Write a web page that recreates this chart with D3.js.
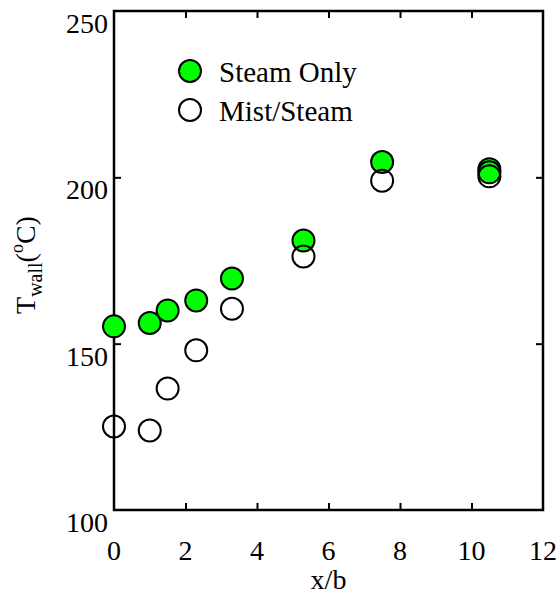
<!DOCTYPE html>
<html>
<head>
<meta charset="utf-8">
<script src="https://cdn.jsdelivr.net/npm/d3@7"></script>
<style>
  body { margin: 0; background: #fff; }
  text { font-family: "Liberation Serif", "Times New Roman", serif; fill: #000; }
</style>
</head>
<body>
<div id="chart"></div>
<script>
// data
const steamX = [0, 1, 1.5, 2.3, 3.3, 5.3, 7.5, 10.5, 10.5];
const steamY = [155.2, 156.2, 160.0, 163.0, 169.6, 181.0, 204.6, 202.4, 201.5];
const mistX = [0, 1, 1.5, 2.3, 3.3, 5.3, 7.5, 10.5];
const mistY = [125.1, 123.9, 136.5, 148.0, 160.5, 176.2, 199.0, 200.3];
const xTicks = [0, 2, 4, 6, 8, 10, 12];
const yTicks = [100, 150, 200, 250];
const seriesNames = ["Steam Only", "Mist/Steam"];

const width = 560, height = 598;
const margin = {top: 11, right: 17, bottom: 88, left: 114};

const svg = d3.select("#chart")
    .append("svg")
    .attr("width", width)
    .attr("height", height);

const x = d3.scaleLinear().domain([0, 12]).range([margin.left, width - margin.right]);
const y = d3.scaleLinear().domain([100, 250]).range([height - margin.bottom, margin.top]);

const fs = 28;

// inner ticks on all four sides
const tickLen = 7;
const inner = xTicks.slice(1, -1);
const innerY = yTicks.slice(1, -1);

svg.append("g")
    .attr("transform", `translate(0,${y(100)})`)
    .call(d3.axisTop(x).tickValues(inner).tickSize(tickLen).tickFormat(""))
    .call(g => g.select(".domain").remove());
svg.append("g")
    .attr("transform", `translate(0,${y(250)})`)
    .call(d3.axisBottom(x).tickValues(inner).tickSize(tickLen).tickFormat(""))
    .call(g => g.select(".domain").remove());
svg.append("g")
    .attr("transform", `translate(${x(0)},0)`)
    .call(d3.axisRight(y).tickValues(innerY).tickSize(tickLen).tickFormat(""))
    .call(g => g.select(".domain").remove());
svg.append("g")
    .attr("transform", `translate(${x(12)},0)`)
    .call(d3.axisLeft(y).tickValues(innerY).tickSize(tickLen).tickFormat(""))
    .call(g => g.select(".domain").remove());
svg.selectAll(".tick line").attr("stroke", "#000").attr("stroke-width", 2);

// frame
svg.append("rect")
    .attr("x", x(0)).attr("y", y(250))
    .attr("width", x(12) - x(0)).attr("height", y(100) - y(250))
    .attr("fill", "none").attr("stroke", "#000").attr("stroke-width", 2.5);

// tick labels
svg.append("g").selectAll("text")
    .data(xTicks).enter().append("text")
    .attr("x", d => x(d))
    .attr("y", y(100) + 50)
    .attr("text-anchor", "middle")
    .attr("font-size", fs)
    .text(d => d);

svg.append("g").selectAll("text")
    .data(yTicks).enter().append("text")
    .attr("x", x(0) - 6)
    .attr("y", d => y(d) + 22)
    .attr("text-anchor", "end")
    .attr("font-size", fs)
    .text(d => d);

// axis titles
svg.append("text")
    .attr("x", (x(0) + x(12)) / 2)
    .attr("y", 589)
    .attr("text-anchor", "middle")
    .attr("font-size", fs)
    .text("x/b");

const yl = svg.append("text")
    .attr("transform", "translate(35,265) rotate(-90)")
    .attr("text-anchor", "middle")
    .attr("font-size", fs);
yl.append("tspan").text("T");
yl.append("tspan").attr("font-size", 20).attr("dy", 7).text("wall");
yl.append("tspan").attr("dy", -7).text("(");
yl.append("tspan").attr("font-size", 18).attr("dy", -12).text("o");
yl.append("tspan").attr("dy", 12).text("C)");

// points
const r = 11;
svg.append("g").selectAll("circle")
    .data(d3.zip(steamX, steamY)).enter().append("circle")
    .attr("cx", d => x(d[0]))
    .attr("cy", d => y(d[1]))
    .attr("r", r)
    .attr("fill", "#00ff00")
    .attr("stroke", "#000")
    .attr("stroke-width", 2);

svg.append("g").selectAll("circle")
    .data(d3.zip(mistX, mistY)).enter().append("circle")
    .attr("cx", d => x(d[0]))
    .attr("cy", d => y(d[1]))
    .attr("r", r)
    .attr("fill", "none")
    .attr("stroke", "#000")
    .attr("stroke-width", 2);

// legend
const legend = svg.append("g");
const legFill = ["#00ff00", "none"];
seriesNames.forEach((name, i) => {
    legend.append("circle")
        .attr("cx", 190).attr("cy", 71 + i * 39)
        .attr("r", r)
        .attr("fill", legFill[i])
        .attr("stroke", "#000")
        .attr("stroke-width", 2);
    legend.append("text")
        .attr("x", 219).attr("y", 82 + i * 39)
        .attr("font-size", 29)
        .text(name);
});
</script>
</body>
</html>
